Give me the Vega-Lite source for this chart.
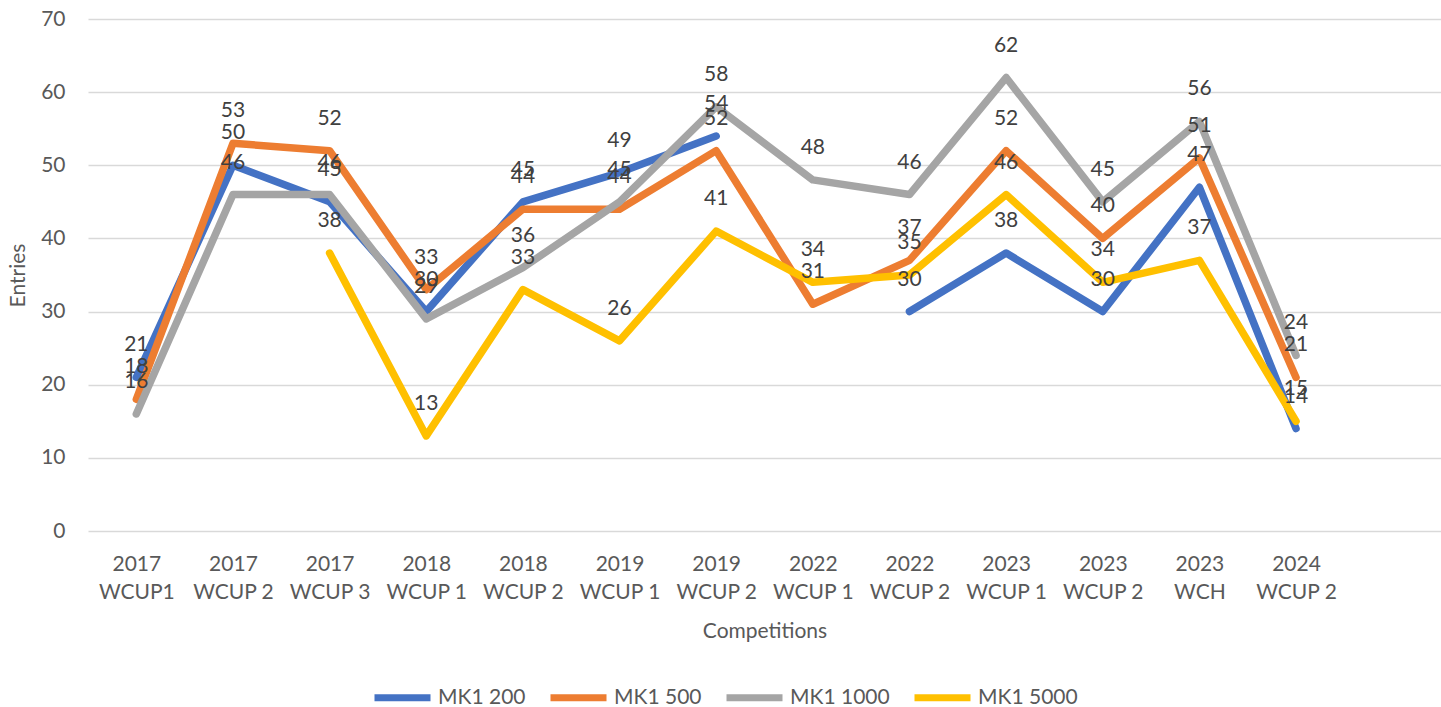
{
  "$schema": "https://vega.github.io/schema/vega-lite/v6.json",
  "width": 1353,
  "height": 512,
  "autosize": {"type": "none"},
  "padding": {"left": 88, "top": 19, "right": 0, "bottom": 176},
  "background": "white",
  "config": {
    "view": {"stroke": null},
    "font": "Lato",
    "axis": {"labelFont": "Lato", "titleFont": "Lato", "labelColor": "#595959", "titleColor": "#595959", "labelFontSize": 21, "titleFontSize": 21, "titleFontWeight": "normal"},
    "legend": {"labelFont": "Lato", "labelColor": "#595959", "labelFontSize": 21}
  },
  "data": {
    "values": [
      {"comp": "2017 WCUP1", "series": "MK1 200", "entries": 21},
      {"comp": "2017 WCUP 2", "series": "MK1 200", "entries": 50},
      {"comp": "2017 WCUP 3", "series": "MK1 200", "entries": 45},
      {"comp": "2018 WCUP 1", "series": "MK1 200", "entries": 30},
      {"comp": "2018 WCUP 2", "series": "MK1 200", "entries": 45},
      {"comp": "2019 WCUP 1", "series": "MK1 200", "entries": 49},
      {"comp": "2019 WCUP 2", "series": "MK1 200", "entries": 54},
      {"comp": "2022 WCUP 1", "series": "MK1 200", "entries": null},
      {"comp": "2022 WCUP 2", "series": "MK1 200", "entries": 30},
      {"comp": "2023 WCUP 1", "series": "MK1 200", "entries": 38},
      {"comp": "2023 WCUP 2", "series": "MK1 200", "entries": 30},
      {"comp": "2023 WCH", "series": "MK1 200", "entries": 47},
      {"comp": "2024 WCUP 2", "series": "MK1 200", "entries": 14},
      {"comp": "2017 WCUP1", "series": "MK1 500", "entries": 18},
      {"comp": "2017 WCUP 2", "series": "MK1 500", "entries": 53},
      {"comp": "2017 WCUP 3", "series": "MK1 500", "entries": 52},
      {"comp": "2018 WCUP 1", "series": "MK1 500", "entries": 33},
      {"comp": "2018 WCUP 2", "series": "MK1 500", "entries": 44},
      {"comp": "2019 WCUP 1", "series": "MK1 500", "entries": 44},
      {"comp": "2019 WCUP 2", "series": "MK1 500", "entries": 52},
      {"comp": "2022 WCUP 1", "series": "MK1 500", "entries": 31},
      {"comp": "2022 WCUP 2", "series": "MK1 500", "entries": 37},
      {"comp": "2023 WCUP 1", "series": "MK1 500", "entries": 52},
      {"comp": "2023 WCUP 2", "series": "MK1 500", "entries": 40},
      {"comp": "2023 WCH", "series": "MK1 500", "entries": 51},
      {"comp": "2024 WCUP 2", "series": "MK1 500", "entries": 21},
      {"comp": "2017 WCUP1", "series": "MK1 1000", "entries": 16},
      {"comp": "2017 WCUP 2", "series": "MK1 1000", "entries": 46},
      {"comp": "2017 WCUP 3", "series": "MK1 1000", "entries": 46},
      {"comp": "2018 WCUP 1", "series": "MK1 1000", "entries": 29},
      {"comp": "2018 WCUP 2", "series": "MK1 1000", "entries": 36},
      {"comp": "2019 WCUP 1", "series": "MK1 1000", "entries": 45},
      {"comp": "2019 WCUP 2", "series": "MK1 1000", "entries": 58},
      {"comp": "2022 WCUP 1", "series": "MK1 1000", "entries": 48},
      {"comp": "2022 WCUP 2", "series": "MK1 1000", "entries": 46},
      {"comp": "2023 WCUP 1", "series": "MK1 1000", "entries": 62},
      {"comp": "2023 WCUP 2", "series": "MK1 1000", "entries": 45},
      {"comp": "2023 WCH", "series": "MK1 1000", "entries": 56},
      {"comp": "2024 WCUP 2", "series": "MK1 1000", "entries": 24},
      {"comp": "2017 WCUP1", "series": "MK1 5000", "entries": null},
      {"comp": "2017 WCUP 2", "series": "MK1 5000", "entries": null},
      {"comp": "2017 WCUP 3", "series": "MK1 5000", "entries": 38},
      {"comp": "2018 WCUP 1", "series": "MK1 5000", "entries": 13},
      {"comp": "2018 WCUP 2", "series": "MK1 5000", "entries": 33},
      {"comp": "2019 WCUP 1", "series": "MK1 5000", "entries": 26},
      {"comp": "2019 WCUP 2", "series": "MK1 5000", "entries": 41},
      {"comp": "2022 WCUP 1", "series": "MK1 5000", "entries": 34},
      {"comp": "2022 WCUP 2", "series": "MK1 5000", "entries": 35},
      {"comp": "2023 WCUP 1", "series": "MK1 5000", "entries": 46},
      {"comp": "2023 WCUP 2", "series": "MK1 5000", "entries": 34},
      {"comp": "2023 WCH", "series": "MK1 5000", "entries": 37},
      {"comp": "2024 WCUP 2", "series": "MK1 5000", "entries": 15}
    ]
  },
  "encoding": {
    "x": {
      "field": "comp",
      "type": "nominal",
      "sort": null,
      "scale": {
        "type": "point",
        "padding": 0.5,
        "domain": ["2017 WCUP1", "2017 WCUP 2", "2017 WCUP 3", "2018 WCUP 1", "2018 WCUP 2", "2019 WCUP 1", "2019 WCUP 2", "2022 WCUP 1", "2022 WCUP 2", "2023 WCUP 1", "2023 WCUP 2", "2023 WCH", "2024 WCUP 2", "_"]
      },
      "axis": {
        "title": "Competitions",
        "titleY": 106,
        "titleBaseline": "alphabetic",
        "labelAngle": 0,
        "labelPadding": 22,
        "labelLineHeight": 28,
        "labelExpr": "datum.label == '_' ? '' : [substring(datum.label, 0, 4), substring(datum.label, 5)]",
        "domain": false,
        "ticks": false,
        "grid": false
      }
    },
    "y": {
      "field": "entries",
      "type": "quantitative",
      "scale": {"domain": [0, 70], "nice": false},
      "axis": {
        "title": "Entries",
        "titleX": -70,
        "titleY": 256,
        "titleBaseline": "middle",
        "values": [0, 10, 20, 30, 40, 50, 60, 70],
        "labelPadding": 23,
        "grid": true,
        "gridColor": "#D9D9D9",
        "gridWidth": 1.3,
        "domain": false,
        "ticks": false
      }
    }
  },
  "layer": [
    {
      "mark": {"type": "line", "strokeWidth": 7.5, "strokeJoin": "round", "strokeCap": "round"},
      "encoding": {
        "color": {
          "field": "series",
          "type": "nominal",
          "scale": {"domain": ["MK1 200", "MK1 500", "MK1 1000", "MK1 5000"], "range": ["#4472C4", "#ED7D31", "#A5A5A5", "#FFC000"]},
          "legend": {
            "title": null,
            "orient": "none",
            "direction": "horizontal",
            "legendX": 283,
            "legendY": 647,
            "padding": 0,
            "symbolType": "stroke",
            "symbolSize": 3136,
            "symbolStrokeWidth": 7,
            "labelOffset": 4,
            "columnPadding": 10
          }
        }
      }
    },
    {
      "transform": [{"filter": "isValid(datum.entries)"}],
      "mark": {"type": "text", "dy": -32, "baseline": "middle", "fontSize": 21, "font": "Lato", "color": "#404040"},
      "encoding": {
        "text": {"field": "entries", "type": "quantitative"}
      }
    }
  ]
}
